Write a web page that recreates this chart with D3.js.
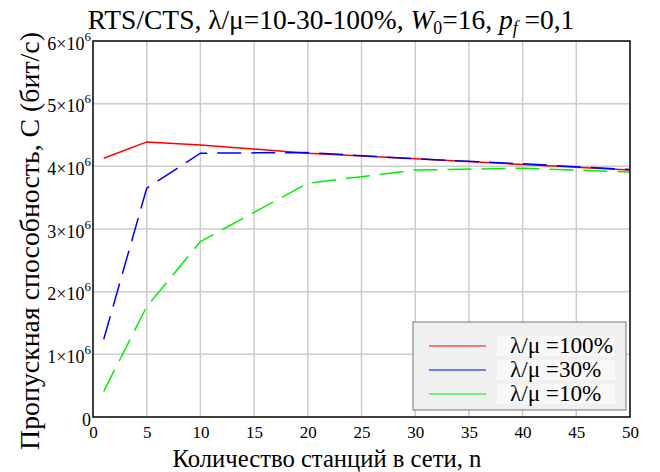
<!DOCTYPE html>
<html>
<head>
<meta charset="utf-8">
<script src="https://cdn.jsdelivr.net/npm/d3@7"></script>
<style>
  body { margin: 0; background: #fff; }
</style>
</head>
<body>
<div id="chart-area"></div>
<script>
// Данные
var stations = [1, 5, 10, 20, 30, 40, 50];
var load100 = [4.13e6, 4.39e6, 4.34e6, 4.21e6, 4.12e6, 4.03e6, 3.94e6];
var load30  = [1.24e6, 3.65e6, 4.21e6, 4.22e6, 4.12e6, 4.04e6, 3.95e6];
var load10  = [0.41e6, 1.76e6, 2.80e6, 3.73e6, 3.94e6, 3.97e6, 3.91e6];
var xTicks = [0, 5, 10, 15, 20, 25, 30, 35, 40, 45, 50];
var yTicks = [0, 1e6, 2e6, 3e6, 4e6, 5e6, 6e6];
var legendLabels = ["λ/μ =100%", "λ/μ =30%", "λ/μ =10%"];

var SERIF = "'Liberation Serif', 'Times New Roman', serif";

var series = [
    { name: legendLabels[0], values: load100, color: "#ff0000", dash: null },
    { name: legendLabels[1], values: load30,  color: "#0000ff", dash: "24,10" },
    { name: legendLabels[2], values: load10,  color: "#00f000", dash: "24,10" }
];

var margin = { top: 41, right: 30, bottom: 55, left: 93 };
var width = 660 - margin.left - margin.right;
var height = 472 - margin.top - margin.bottom;

var svg = d3.select("#chart-area")
    .append("svg")
        .attr("width", 660)
        .attr("height", 472);

var group = svg.append("g")
    .attr("transform", "translate(" + margin.left + ", " + margin.top + ")");

var x = d3.scaleLinear().domain([0, 50]).range([0, width]);
var y = d3.scaleLinear().domain([0, 6e6]).range([height, 0]);

// подгонка ширины текста под оригинал
function fitWidth(sel, target) {
    var size = parseFloat(sel.style("font-size"));
    var len = sel.node().getComputedTextLength();
    var newSize = size * target / len;
    sel.style("font-size", newSize + "px");
    return newSize;
}

// Сетка
group.selectAll(".vgrid")
    .data(xTicks.slice(1, -1))
    .enter().append("line")
        .attr("x1", d => x(d)).attr("x2", d => x(d))
        .attr("y1", 0).attr("y2", height)
        .attr("stroke", "#cccccc").attr("stroke-width", 1.5);

group.selectAll(".hgrid")
    .data(yTicks.slice(1, -1))
    .enter().append("line")
        .attr("x1", 0).attr("x2", width)
        .attr("y1", d => y(d)).attr("y2", d => y(d))
        .attr("stroke", "#cccccc").attr("stroke-width", 1.5);

// Линии
var line = d3.line()
    .x((d, i) => x(stations[i]))
    .y(d => y(d));

series.forEach(s => {
    group.append("path")
        .datum(s.values)
        .attr("fill", "none")
        .attr("stroke", s.color)
        .attr("stroke-width", 1.5)
        .attr("stroke-dasharray", s.dash)
        .attr("d", line);
});

// Рамка
group.append("rect")
    .attr("width", width).attr("height", height)
    .attr("fill", "none").attr("stroke", "#000").attr("stroke-width", 1.5);

// Ось X
var xAxisCall = d3.axisBottom(x).tickValues(xTicks).tickSize(0).tickPadding(9);
var xAxisGroup = group.append("g")
    .attr("transform", "translate(0, " + height + ")")
    .call(xAxisCall);
xAxisGroup.select(".domain").remove();
xAxisGroup.selectAll("text")
    .style("font-size", "17px")
    .style("font-family", SERIF)
    .attr("fill", "#000");

// Ось Y
var yAxisCall = d3.axisLeft(y).tickValues(yTicks).tickSize(0).tickFormat("");
var yAxisGroup = group.append("g").call(yAxisCall);
yAxisGroup.select(".domain").remove();
yAxisGroup.selectAll(".tick").each(function(d) {
    var t = d3.select(this).append("text")
        .attr("x", -2)
        .attr("y", 8)
        .attr("text-anchor", "end")
        .attr("fill", "#000")
        .style("font-size", "18px")
        .style("font-family", SERIF);
    if (d === 0) {
        t.text("0");
    } else {
        t.append("tspan").text((d / 1e6) + "×10");
        t.append("tspan").attr("dy", -9).style("font-size", "13px").text("6");
    }
});

// Заголовок
var title = svg.append("text")
    .attr("x", 331)
    .attr("y", 29)
    .attr("text-anchor", "middle")
    .style("font-family", SERIF)
    .style("font-size", "23px");
title.append("tspan").text("RTS/CTS, λ/μ=10-30-100%, ");
title.append("tspan").style("font-style", "italic").text("W");
title.append("tspan").style("font-size", "0.65em").attr("dy", 5).text("0");
title.append("tspan").attr("dy", -5).text("=16, ");
title.append("tspan").style("font-style", "italic").text("p");
title.append("tspan").style("font-style", "italic").style("font-size", "0.65em").attr("dy", 5).text("f");
title.append("tspan").attr("dy", -5).text(" =0,1");
fitWidth(title, 487);

// Подписи осей
var xLabel = svg.append("text")
    .attr("x", 327)
    .attr("y", 467)
    .attr("text-anchor", "middle")
    .style("font-family", SERIF)
    .style("font-size", "25px")
    .text("Количество станций в сети, n");
fitWidth(xLabel, 309);

var yLabel = svg.append("text")
    .attr("transform", "translate(39, 241) rotate(-90)")
    .attr("text-anchor", "middle")
    .style("font-family", SERIF)
    .style("font-size", "28px")
    .text("Пропускная способность, C (бит/с)");
fitWidth(yLabel, 418);

// Легенда
var legend = svg.append("g").attr("transform", "translate(413, 322)");
legend.append("rect")
    .attr("width", 213).attr("height", 88)
    .attr("fill", "#f0f0f0").attr("stroke", "#777").attr("stroke-width", 1);

var legendSize = 21;
series.forEach((s, i) => {
    var yy = 24 + i * 24;
    legend.append("rect")
        .attr("x", 84).attr("y", yy - 10)
        .attr("width", 118).attr("height", 20)
        .attr("fill", "#f8f8f8");
    legend.append("line")
        .attr("x1", 16).attr("x2", 73)
        .attr("y1", yy).attr("y2", yy)
        .attr("stroke", s.color).attr("stroke-width", 1.2);
    var lt = legend.append("text")
        .attr("x", 97).attr("y", yy + 7)
        .style("font-family", SERIF)
        .style("font-size", legendSize + "px")
        .text(s.name);
    if (i === 0) legendSize = fitWidth(lt, 103);
});
</script>
</body>
</html>
